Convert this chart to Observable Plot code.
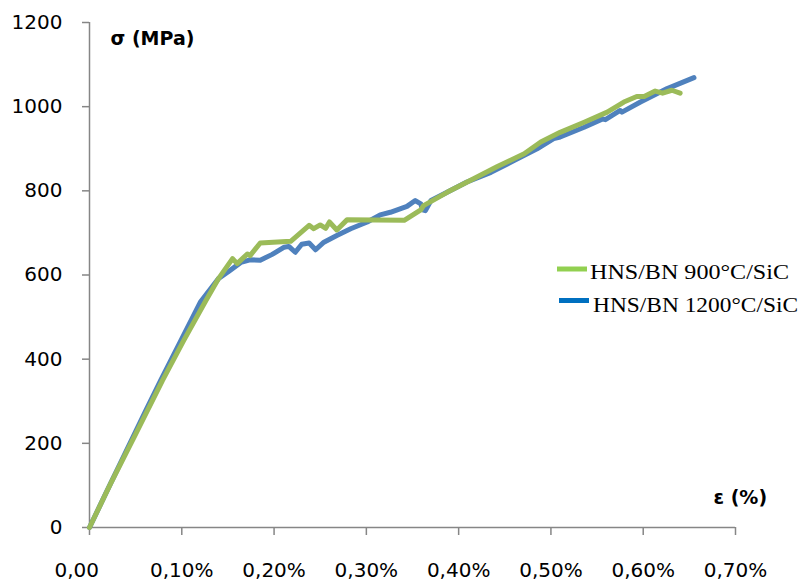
<!DOCTYPE html>
<html>
<head>
<meta charset="utf-8">
<script src="https://cdn.jsdelivr.net/npm/d3@7"></script>
<script src="https://cdn.jsdelivr.net/npm/@observablehq/plot@0.6"></script>
<style>
  html, body { margin: 0; padding: 0; background: #fff; overflow: hidden; }
  #chart svg { display: block; }
</style>
</head>
<body>
<div id="chart"></div>
<script>
// ---- Data (strain in %, stress in MPa) ----
const seriesNames = ["HNS/BN 900°C/SiC", "HNS/BN 1200°C/SiC"];

const strain900 = [0, 0.023, 0.050, 0.079, 0.102, 0.126, 0.140, 0.155, 0.160, 0.171, 0.174, 0.185, 0.218, 0.238, 0.243, 0.250, 0.256, 0.260, 0.268, 0.279, 0.341, 0.359, 0.362, 0.388, 0.413, 0.442, 0.471, 0.489, 0.510, 0.536, 0.561, 0.579, 0.593, 0.601, 0.613, 0.621, 0.631, 0.640];
const stress900 = [0, 105, 222, 349, 444, 539, 592, 639, 627, 650, 646, 676, 680, 718, 710, 719, 711, 726, 707, 731, 730, 755, 765, 797, 825, 858, 888, 916, 939, 963, 987, 1011, 1024, 1024, 1037, 1032, 1039, 1032];

const strain1200 = [0, 0.017, 0.039, 0.061, 0.077, 0.099, 0.120, 0.140, 0.150, 0.164, 0.174, 0.185, 0.198, 0.211, 0.216, 0.223, 0.230, 0.238, 0.245, 0.254, 0.268, 0.283, 0.301, 0.315, 0.326, 0.344, 0.353, 0.359, 0.361, 0.364, 0.370, 0.388, 0.409, 0.435, 0.460, 0.485, 0.503, 0.510, 0.536, 0.556, 0.559, 0.575, 0.577, 0.597, 0.626, 0.655];
const stress1200 = [0, 78, 178, 278, 349, 444, 535, 592, 607, 630, 636, 635, 649, 666, 668, 654, 673, 676, 660, 678, 694, 710, 726, 743, 749, 763, 777, 769, 755, 753, 777, 797, 821, 844, 872, 900, 924, 928, 951, 971, 969, 991, 987, 1011, 1043, 1069];

const xTicks = [0, 0.1, 0.2, 0.3, 0.4, 0.5, 0.6, 0.7];
const xTickLabels = ["0,00\u2007\u2007", "0,10%", "0,20%", "0,30%", "0,40%", "0,50%", "0,60%", "0,70%"];
const yTicks = [0, 200, 400, 600, 800, 1000, 1200];
const yTickLabels = ["0", "200", "400", "600", "800", "1000", "1200"];

const yTitle = "σ (MPa)";
const xTitle = "ε (%)";

const colors900 = {line: "#9BBB59", legend: "#92D050"};
const colors1200 = {line: "#4F81BD", legend: "#0070C0"};
const axisColor = "#868686";

// ---- Tables built from arrays ----
const data900 = strain900.map((s, i) => ({strain: s, stress: stress900[i]}));
const data1200 = strain1200.map((s, i) => ({strain: s, stress: stress1200[i]}));

const legendItems = [
  {name: seriesNames[0], color: colors900.legend, len: 199},
  {name: seriesNames[1], color: colors1200.legend, len: 205}
];

function legendMark(index, scales, values, dimensions) {
  const g = d3.create("svg:g");
  const right = dimensions.width - dimensions.marginRight;
  const top = dimensions.marginTop;
  const layout = [
    {sx: right - 178, sy: top + 247, tx: right - 145, ty: top + 257},
    {sx: right - 176, sy: top + 278.5, tx: right - 142, ty: top + 290}
  ];
  legendItems.forEach((it, i) => {
    const L = layout[i];
    g.append("line")
      .attr("x1", L.sx).attr("x2", L.sx + 30)
      .attr("y1", L.sy).attr("y2", L.sy)
      .attr("stroke", it.color).attr("stroke-width", 5);
    g.append("text")
      .attr("x", L.tx).attr("y", L.ty)
      .attr("text-anchor", "start")
      .attr("font-family", "'Liberation Serif', 'Times New Roman', serif")
      .attr("font-size", 22)
      .attr("textLength", it.len)
      .attr("lengthAdjust", "spacingAndGlyphs")
      .attr("fill", "#000")
      .text(it.name);
  });
  return g.node();
}

const chart = Plot.plot({
  width: 804,
  height: 583,
  marginLeft: 89,
  marginRight: 69,
  marginTop: 22,
  marginBottom: 56,
  style: {fontFamily: "'DejaVu Sans', sans-serif", fontSize: "20px", color: "#000", background: "#fff"},
  x: {domain: [0, 0.7]},
  y: {domain: [0, 1200]},
  marks: [
    Plot.axisY({ticks: yTicks, tickSize: 7, tickPadding: 20, stroke: axisColor, strokeWidth: 1.5, fill: "#000", label: null, fontSize: 20,
      tickFormat: d => yTickLabels[Math.round(d / 200)]}),
    Plot.axisX({ticks: xTicks, tickSize: 8, tickPadding: 27, stroke: axisColor, strokeWidth: 1.5, fill: "#000", label: null, fontSize: 20,
      tickFormat: d => xTickLabels[Math.round(d * 10)]}),
    Plot.ruleX([0], {stroke: axisColor, strokeWidth: 1.5}),
    Plot.ruleY([0], {stroke: axisColor, strokeWidth: 1.5}),
    Plot.line(data1200, {x: "strain", y: "stress", stroke: colors1200.line, strokeWidth: 5, strokeLinejoin: "round", strokeLinecap: "round"}),
    Plot.line(data900, {x: "strain", y: "stress", stroke: colors900.line, strokeWidth: 5, strokeLinejoin: "round", strokeLinecap: "round"}),
    Plot.text([yTitle], {text: d => d, frameAnchor: "top-left", dx: 21, dy: 9, textAnchor: "start", fontWeight: "bold", fontSize: 19, fill: "#000"}),
    Plot.text([xTitle], {text: d => d, frameAnchor: "bottom-right", dx: -22, dy: -24, textAnchor: "start", fontWeight: "bold", fontSize: 19, fill: "#000"}),
    legendMark
  ]
});

document.getElementById("chart").appendChild(chart);
</script>
</body>
</html>
